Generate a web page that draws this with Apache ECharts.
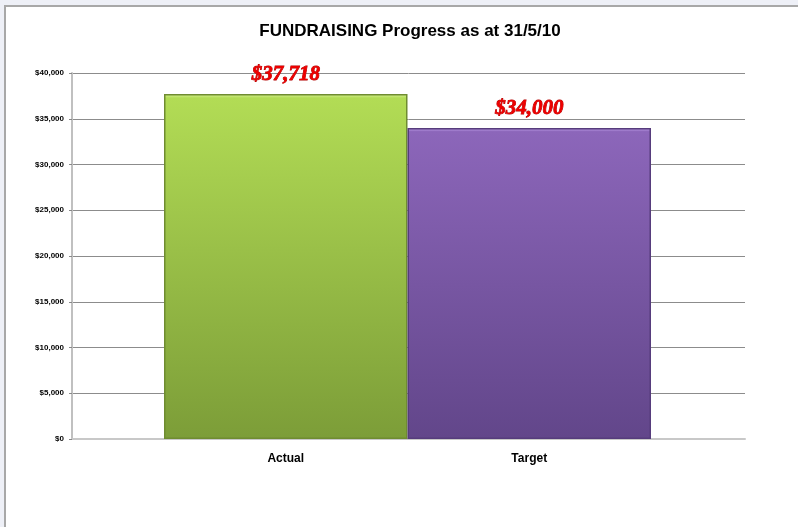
<!DOCTYPE html>
<html>
<head>
<meta charset="utf-8">
<script src="https://cdn.jsdelivr.net/npm/echarts@6/dist/echarts.min.js"></script>
<style>
  html, body { margin: 0; padding: 0; background: #eef0f7; }
  #chart { width: 798px; height: 527px; }
</style>
</head>
<body>
<div id="chart"></div>
<script>
// data
const categories = ["Actual", "Target"];
const amounts = [37718, 34000];
const yMin = 0;
const yMax = 40000;
const yStep = 5000;

const barColors = [
  { top: "#b2dc55", bottom: "#7c9d38", cap: "#dcf59a", edge: "#6f8c31" },
  { top: "#8c66ba", bottom: "#62468a", cap: "#c9a9f2", edge: "#563c7c" }
];

function money(v) {
  return "$" + v.toString().replace(/\B(?=(\d{3})+(?!\d))/g, ",");
}

const myChart = echarts.init(document.getElementById("chart"));

myChart.setOption({
  backgroundColor: "#eef0f7",
  animation: false,
  graphic: [
    {
      type: "rect",
      shape: { x: 5, y: 6, width: 800, height: 530 },
      style: { fill: "#ffffff", stroke: "#a8a8a8", lineWidth: 2 },
      z: -10
    }
  ],
  title: {
    text: "FUNDRAISING Progress as at 31/5/10",
    left: 405,
    top: 18,
    textAlign: "center",
    textStyle: {
      fontFamily: "Liberation Sans, Arial, sans-serif",
      fontWeight: "bold",
      fontSize: 17,
      color: "#000"
    }
  },
  grid: [
    // full plot area: gridlines and value axis
    { left: 72, right: 53, top: 73, bottom: 88 },
    // bars: sit inside the plot area with a gap each side
    { left: 164, right: 147, top: 73, bottom: 88 }
  ],
  xAxis: [
    {
      gridIndex: 0,
      type: "category",
      data: [""],
      axisLine: { lineStyle: { color: "#c8c8c8", width: 2 } },
      axisTick: { show: false },
      axisLabel: { show: false }
    },
    {
      gridIndex: 1,
      type: "category",
      data: categories,
      axisLine: { show: false },
      axisTick: { show: false },
      axisLabel: {
        margin: 14,
        fontFamily: "Liberation Sans, Arial, sans-serif",
        fontWeight: "bold",
        fontSize: 12,
        color: "#000"
      }
    }
  ],
  yAxis: [
    {
      gridIndex: 0,
      type: "value",
      min: yMin,
      max: yMax,
      interval: yStep,
      axisLine: { show: true, lineStyle: { color: "#c0c0c0", width: 2 } },
      axisTick: { show: true, length: 3, lineStyle: { color: "#888" } },
      axisLabel: {
        margin: 8,
        formatter: money,
        fontFamily: "Liberation Sans, Arial, sans-serif",
        fontWeight: "bold",
        fontSize: 8,
        color: "#000"
      },
      splitLine: { lineStyle: { color: "#8c8c8c", width: 1 } }
    },
    {
      gridIndex: 1,
      type: "value",
      min: yMin,
      max: yMax,
      interval: yStep,
      show: false,
      splitLine: { show: false }
    }
  ],
  series: [
    {
      type: "bar",
      xAxisIndex: 1,
      yAxisIndex: 1,
      barCategoryGap: 0,
      data: amounts.map((v, i) => ({
        value: v,
        itemStyle: {
          color: {
            type: "linear", x: 0, y: 0, x2: 0, y2: 1,
            colorStops: [
              { offset: 0, color: barColors[i].cap },
              { offset: 0.012, color: barColors[i].top },
              { offset: 1, color: barColors[i].bottom }
            ]
          },
          borderColor: barColors[i].edge,
          borderWidth: 1.5
        }
      })),
      label: {
        show: true,
        position: "top",
        distance: 9,
        formatter: p => money(p.value),
        fontFamily: "Liberation Serif, serif",
        fontStyle: "italic",
        fontWeight: "bold",
        fontSize: 21,
        color: "#ee0000",
        textBorderColor: "#b00000",
        textBorderWidth: 0.8,
        textShadowColor: "#400000",
        textShadowOffsetX: 1,
        textShadowOffsetY: 1,
        textShadowBlur: 0
      },
      z: 3
    }
  ]
});

window.addEventListener("resize", () => {
  myChart.resize();
});
</script>
</body>
</html>
